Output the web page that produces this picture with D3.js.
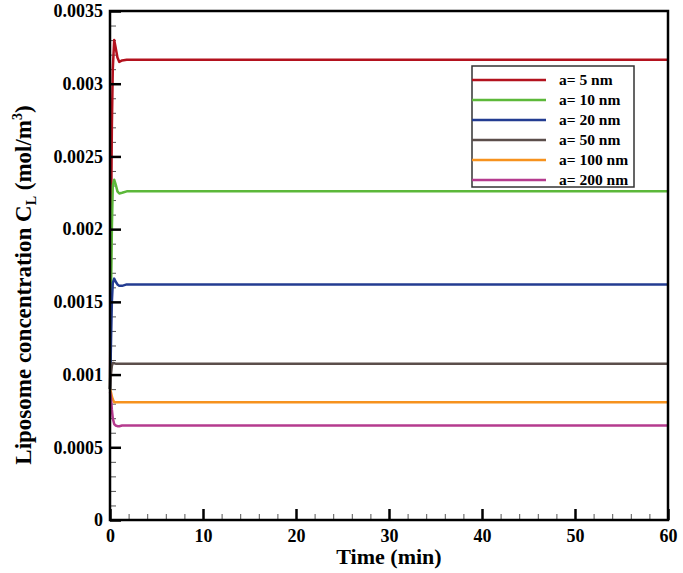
<!DOCTYPE html>
<html><head><meta charset="utf-8">
<script src="https://cdn.jsdelivr.net/npm/d3@7"></script>
<style>body{margin:0;background:#fff}svg{display:block}text{font-family:"Liberation Serif","Times New Roman",serif;font-weight:bold}</style>
</head><body>
<svg id="c" width="683" height="573"></svg>
<script>
const time = [0, 0.1, 0.2, 0.3, 0.45, 0.6, 0.8, 1.0, 1.3, 1.8, 2.5, 60];
const a5   = [0.0009, 0.0019, 0.0027, 0.0031, 0.0033, 0.00325, 0.00318, 0.00315, 0.00316, 0.003165, 0.003165, 0.003165];
const a10  = [0.0009, 0.0015, 0.0020, 0.0023, 0.00234, 0.00231, 0.00226, 0.002245, 0.00225, 0.00226, 0.00226, 0.00226];
const a20  = [0.0009, 0.0012, 0.0015, 0.00163, 0.00166, 0.00164, 0.00162, 0.00161, 0.00161, 0.00162, 0.00162, 0.00162];
const a50  = [0.0009, 0.0010, 0.00106, 0.00108, 0.001078, 0.001075, 0.001075, 0.001075, 0.001075, 0.001075, 0.001075, 0.001075];
const a100 = [0.0009, 0.00088, 0.00085, 0.00083, 0.00081, 0.00081, 0.00081, 0.00081, 0.00081, 0.00081, 0.00081, 0.00081];
const a200 = [0.00088, 0.00084, 0.00076, 0.0007, 0.00066, 0.00065, 0.000645, 0.000645, 0.00065, 0.00065, 0.00065, 0.00065];
const seriesNames = ["a= 5 nm", "a= 10 nm", "a= 20 nm", "a= 50 nm", "a= 100 nm", "a= 200 nm"];
const seriesValues = [a5, a10, a20, a50, a100, a200];
const colors = ["#b3121e", "#5cb83a", "#233c91", "#5b4e4b", "#f6921e", "#b53b8e"];
const xTicks = [0, 10, 20, 30, 40, 50, 60];
const yTicks = [0, 0.0005, 0.001, 0.0015, 0.002, 0.0025, 0.003, 0.0035];
const yTickLabels = ["0", "0.0005", "0.001", "0.0015", "0.002", "0.0025", "0.003", "0.0035"];

const W = 683, H = 573, m = {l: 110, r: 15, t: 11, b: 53};
const svg = d3.select("#c");
const x = d3.scaleLinear().domain([0, 60]).range([m.l, W - m.r]);
const y = d3.scaleLinear().domain([0, 0.0035]).range([H - m.b, m.t]);

// minor ticks
const xMinor = d3.range(0, 61, 2).filter(v => v % 10 !== 0);
const yMinor = d3.range(0, 36).map(i => i * 0.0001).filter((v, i) => i % 5 !== 0);
svg.append("g").attr("transform", `translate(0,${H - m.b})`)
  .call(d3.axisBottom(x).tickValues(xMinor).tickSize(-6).tickFormat(""))
  .call(g => { g.select(".domain").remove(); g.selectAll("line").attr("stroke", "#555").attr("stroke-width", 1); });
svg.append("g").attr("transform", `translate(${m.l},0)`)
  .call(d3.axisLeft(y).tickValues(yMinor).tickSize(-6).tickFormat(""))
  .call(g => { g.select(".domain").remove(); g.selectAll("line").attr("stroke", "#555").attr("stroke-width", 1); });

// lines
const line = d3.line().x((d, i) => x(time[i])).y(d => y(d));
seriesValues.forEach((vals, k) => {
  svg.append("path").datum(vals).attr("d", line).attr("fill", "none")
    .attr("stroke", colors[k]).attr("stroke-width", 2.5).attr("stroke-linejoin", "round");
});

// major axes
const xa = svg.append("g").attr("transform", `translate(0,${H - m.b})`)
  .call(d3.axisBottom(x).tickValues(xTicks).tickSize(-11).tickPadding(9).tickFormat(d3.format("d")));
xa.select(".domain").remove();
xa.selectAll("line").attr("stroke", "#000").attr("stroke-width", 2.5);
xa.selectAll("text").attr("font-size", 18).attr("fill", "#000");
const ya = svg.append("g").attr("transform", `translate(${m.l},0)`)
  .call(d3.axisLeft(y).tickValues(yTicks).tickSize(-11).tickPadding(7).tickFormat((d, i) => yTickLabels[i]));
ya.select(".domain").remove();
ya.selectAll("line").attr("stroke", "#000").attr("stroke-width", 2.5);
ya.selectAll("text").attr("font-size", 18).attr("fill", "#000");

// frame
svg.append("rect").attr("x", m.l).attr("y", m.t).attr("width", W - m.l - m.r).attr("height", H - m.t - m.b)
  .attr("fill", "none").attr("stroke", "#000").attr("stroke-width", 2.5);

// axis titles
svg.append("text").attr("x", (m.l + W - m.r) / 2).attr("y", 564).attr("text-anchor", "middle")
  .attr("font-size", 22).text("Time (min)");
const yt = svg.append("text").attr("transform", `translate(31,285) rotate(-90)`)
  .attr("text-anchor", "middle").attr("font-size", 23);
yt.append("tspan").text("Liposome concentration C");
yt.append("tspan").attr("font-size", 14).attr("dy", 5).text("L");
yt.append("tspan").attr("dy", -5).text(" (mol/m");
yt.append("tspan").attr("font-size", 14).attr("dy", -9).text("3");
yt.append("tspan").attr("dy", 9).text(")");

// legend
const lg = svg.append("g");
lg.append("rect").attr("x", 472).attr("y", 66).attr("width", 162).attr("height", 121)
  .attr("fill", "#fff").attr("stroke", "#333").attr("stroke-width", 1.5);
seriesNames.forEach((n, k) => {
  const yy = 80 + k * 20;
  lg.append("line").attr("x1", 472).attr("x2", 546).attr("y1", yy).attr("y2", yy)
    .attr("stroke", colors[k]).attr("stroke-width", 2.5);
  lg.append("text").attr("x", 559).attr("y", yy + 5).attr("font-size", 15.5).text(n);
});
</script>
</body></html>
